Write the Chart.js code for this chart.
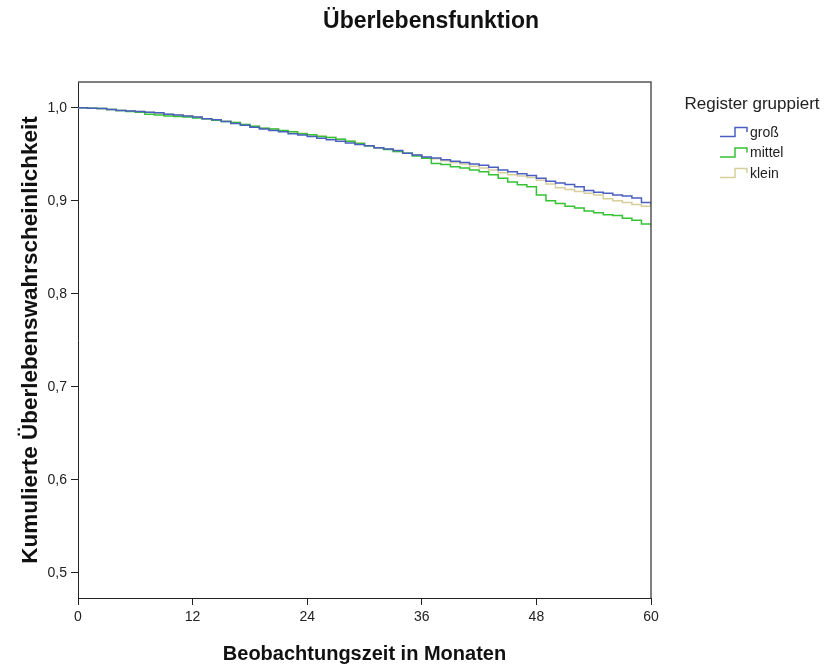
<!DOCTYPE html>
<html>
<head>
<meta charset="utf-8">
<script src="https://cdn.jsdelivr.net/npm/chart.js@4"></script>
<style>
  html, body { margin: 0; padding: 0; background: #fff; }
  #wrap { width: 840px; height: 667px; }
</style>
</head>
<body>
<div id="wrap"><canvas id="myChart1" width="840" height="667"></canvas></div>
<script>
// Kaplan-Meier values, one per month
const months = [];
for (let m = 0; m <= 60; m++) months.push(m);

const gross = [1.000, .9995, .999, .998, .997, .9965, .996, .995, .9945, .993, .992,
  .991, .990, .988, .987, .985, .983, .981, .979, .977, .9755,
  .974, .972, .9705, .969, .967, .9655, .964, .962, .9605, .959,
  .957, .9555, .954, .951, .949, .947, .946, .944, .9425, .941,
  .9395, .938, .936, .933, .931, .929, .927, .924, .921, .919,
  .9175, .915, .911, .909, .908, .906, .905, .903, .898, .895];

const mittel = [1.000, .9995, .999, .998, .997, .996, .995, .993, .992, .991, .9905,
  .990, .989, .988, .9865, .985, .984, .982, .980, .978, .977,
  .9755, .974, .972, .971, .969, .968, .966, .964, .9615, .959,
  .957, .955, .953, .951, .948, .9455, .940, .939, .9365, .935,
  .933, .931, .928, .924, .920, .917, .915, .906, .900, .897,
  .894, .892, .889, .887, .885, .884, .881, .879, .875, .872];

const klein = [1.000, .9995, .999, .998, .997, .9965, .996, .995, .994, .993, .992,
  .991, .990, .988, .987, .9855, .984, .982, .980, .978, .977,
  .975, .974, .9725, .971, .9695, .968, .966, .964, .962, .959,
  .957, .9555, .953, .951, .949, .9465, .945, .943, .941, .9395,
  .937, .935, .933, .930, .928, .9265, .925, .922, .918, .914,
  .912, .910, .908, .906, .902, .900, .898, .896, .894, .894];

const seriesNames = ["groß", "mittel", "klein"];
const seriesColors = ["#4a5fc1", "#35c235", "#d6cf9c"];
const xTicks = [0, 12, 24, 36, 48, 60];
const yTicks = [0.5, 0.6, 0.7, 0.8, 0.9, 1.0];

const FONT = "'Liberation Sans', Arial, sans-serif";

function toPoints(vals) {
  return months.map((m, i) => ({ x: m, y: vals[i] }));
}

// box on top/right + SPSS style legend with step icons
const boxAndLegend = {
  id: "boxAndLegend",
  afterDraw(chart) {
    const { ctx, chartArea: a } = chart;
    ctx.save();
    ctx.strokeStyle = "#555";
    ctx.lineWidth = 1.5;
    ctx.beginPath();
    ctx.moveTo(a.left, a.top);
    ctx.lineTo(a.right, a.top);
    ctx.lineTo(a.right, a.bottom);
    ctx.stroke();

    ctx.fillStyle = "#222";
    ctx.font = "17px " + FONT;
    ctx.textAlign = "center";
    ctx.textBaseline = "middle";
    ctx.fillText("Register gruppiert", a.right + 101, a.top + 22);

    ctx.font = "14px " + FONT;
    ctx.textAlign = "left";
    chart.data.datasets.forEach((ds, i) => {
      const y = a.top + 50 + i * 20.5;
      ctx.strokeStyle = ds.borderColor;
      ctx.lineWidth = 1.5;
      ctx.beginPath();
      ctx.moveTo(a.right + 69, y + 4.5);
      ctx.lineTo(a.right + 84, y + 4.5);
      ctx.lineTo(a.right + 84, y - 4.5);
      ctx.lineTo(a.right + 96, y - 4.5);
      ctx.lineTo(a.right + 96, y);
      ctx.stroke();
      ctx.fillStyle = "#222";
      ctx.fillText(ds.label, a.right + 99, y + 1);
    });
    ctx.restore();
  },
};

const data = {
  datasets: seriesNames.map((name, i) => ({
    label: name,
    data: toPoints([gross, mittel, klein][i]),
    borderColor: seriesColors[i],
    borderWidth: 1.5,
    pointRadius: 0,
    fill: false,
    stepped: true,
  })),
};

const config = {
  type: "line",
  data: data,
  plugins: [boxAndLegend],
  options: {
    responsive: false,
    animation: false,
    layout: { padding: { left: 22, top: 0, right: 0, bottom: 0 } },
    plugins: {
      legend: { display: false },
      tooltip: { enabled: false },
      title: {
        display: true,
        text: "Überlebensfunktion",
        color: "#111",
        font: { size: 23, weight: "bold", family: FONT },
        padding: { top: 8, bottom: 46.4 },
      },
    },
    scales: {
      x: {
        type: "linear",
        min: 0,
        max: 60,
        afterBuildTicks: (s) => { s.ticks = xTicks.map((v) => ({ value: v })); },
        afterFit: (s) => { s.height = 69; },
        ticks: { color: "#222", padding: 4, maxRotation: 0, font: { size: 14, family: FONT } },
        grid: { drawOnChartArea: false, drawTicks: true, tickLength: 7, color: "#222" },
        border: { display: true, color: "#222", width: 1 },
        title: {
          display: true,
          text: "Beobachtungszeit in Monaten",
          color: "#111",
          font: { size: 20, weight: "bold", family: FONT, lineHeight: 1 },
          padding: { top: 0, bottom: 3 },
        },
      },
      y: {
        type: "linear",
        min: 0.4728,
        max: 1.0276,
        afterBuildTicks: (s) => { s.ticks = yTicks.map((v) => ({ value: v })); },
        afterFit: (s) => { s.width = 56; },
        ticks: {
          color: "#222",
          padding: 4,
          font: { size: 14, family: FONT },
          callback: (v) => v.toFixed(1).replace(".", ","),
        },
        grid: { drawOnChartArea: false, drawTicks: true, tickLength: 7, color: "#222" },
        border: { display: true, color: "#222", width: 1 },
        title: {
          display: true,
          text: "Kumulierte Überlebenswahrscheinlichkeit",
          color: "#111",
          font: { size: 22.5, weight: "bold", family: FONT, lineHeight: 1 },
          padding: { top: -2, bottom: 0 },
        },
      },
      // empty right axis that keeps room for the legend
      yRight: {
        type: "linear",
        position: "right",
        display: true,
        ticks: { display: false },
        grid: { display: false },
        border: { display: false },
        afterFit: (s) => { s.width = 189; },
      },
    },
  },
};

const myChart = new Chart(document.getElementById("myChart1"), config);
</script>
</body>
</html>
